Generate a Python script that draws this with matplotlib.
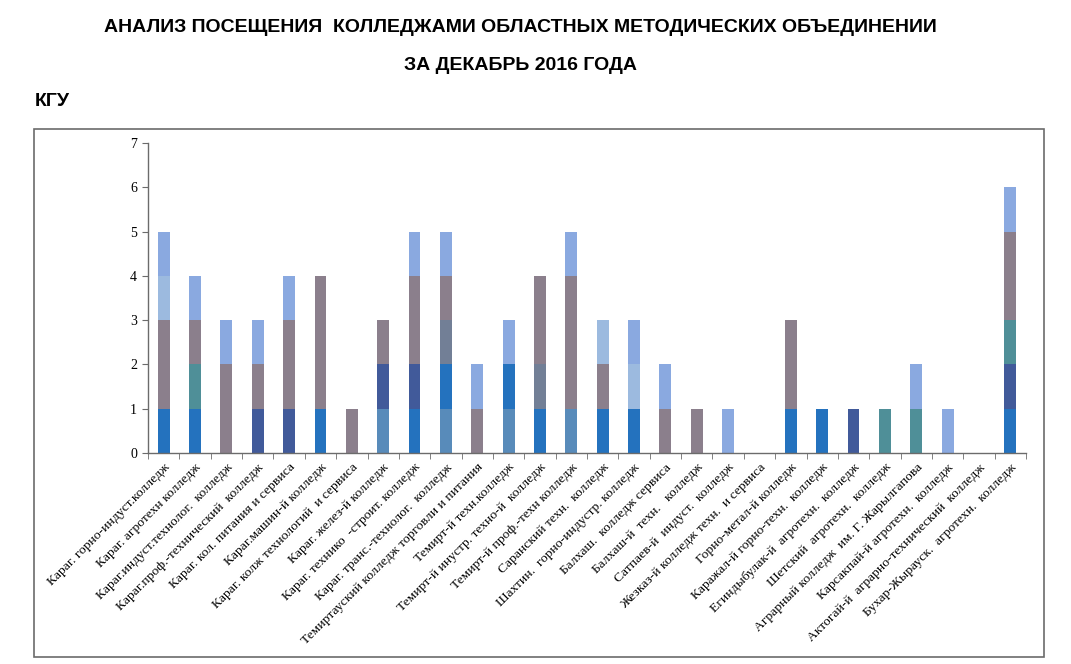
import numpy as np
import matplotlib
matplotlib.use("Agg")
from matplotlib import pyplot as plt
from matplotlib.patches import Rectangle

colleges = [
    "Караг. горно-индуст.колледж",
    "Караг. агротехн колледж",
    "Караг.индуст.технолог.  колледж",
    "Караг.проф.-технический  колледж",
    "Караг. кол. питания и сервиса",
    "Караг.машин-й колледж",
    "Караг. колж технологий  и сервиса",
    "Караг. желез-й колледж",
    "Караг. технико  -строит. колледж",
    "Караг. транс.-технолог.  колледж",
    "Темиртауский колледж торговли и питания",
    "Темирт-й техн.колледж",
    "Темирт-й инустр. техно-й  колледж",
    "Темирт-й проф.-техн колледж",
    "Саранский техн.  колледж",
    "Шахтин.  горно-индустр. колледж",
    "Балхаш.  колледж сервиса",
    "Балхаш-й  техн.   колледж",
    "Сатпаев-й  индуст.  колледж",
    "Жезказ-й колледж техн.  и сервиса",
    "Горно-метал-й колледж",
    "Каражал-й горно-техн.  колледж",
    "Егиндыбулак-й  агротехн.  колледж",
    "Шетский  агротехн.  колледж",
    "Аграрный колледж  им. Г. Жарылгапова",
    "Карсакпай-й агротехн.  колледж",
    "Актогай-й  аграрно-технический  колледж",
    "Бухар-Жырауск.  агротехн.  колледж",
]

# stacked series, bottom to top
s1 = [0, 0, 0, 0, 0, 0, 0, 1, 0, 1, 0, 1, 0, 1, 0, 0, 0, 0, 0, 0, 0, 0, 0, 0, 0, 0, 0, 0]
s2 = [1, 1, 0, 0, 0, 1, 0, 0, 1, 1, 0, 1, 1, 0, 1, 1, 0, 0, 0, 0, 1, 1, 0, 0, 0, 0, 0, 1]
s3 = [0, 0, 0, 1, 1, 0, 0, 1, 1, 0, 0, 0, 0, 0, 0, 0, 0, 0, 0, 0, 0, 0, 1, 0, 0, 0, 0, 1]
s4 = [0, 1, 0, 0, 0, 0, 0, 0, 0, 0, 0, 0, 0, 0, 0, 0, 0, 0, 0, 0, 0, 0, 0, 1, 1, 0, 0, 1]
s5 = [0, 0, 0, 0, 0, 0, 0, 0, 0, 1, 0, 0, 1, 0, 0, 0, 0, 0, 0, 0, 0, 0, 0, 0, 0, 0, 0, 0]
s6 = [2, 1, 2, 1, 2, 3, 1, 1, 2, 1, 1, 0, 2, 3, 1, 0, 1, 1, 0, 0, 2, 0, 0, 0, 0, 0, 0, 2]
s7 = [1, 0, 0, 0, 0, 0, 0, 0, 0, 0, 0, 0, 0, 0, 1, 1, 0, 0, 0, 0, 0, 0, 0, 0, 0, 0, 0, 0]
s8 = [1, 1, 1, 1, 1, 0, 0, 0, 1, 1, 1, 1, 0, 1, 0, 1, 1, 0, 1, 0, 0, 0, 0, 0, 1, 1, 0, 1]

series = [s1, s2, s3, s4, s5, s6, s7, s8]
colors = ["#588BBA", "#2472BE", "#415A9A", "#4F8F98",
          "#727F96", "#8B7F8C", "#9CBADF", "#8AA9E0"]

serif = ["Liberation Serif", "DejaVu Serif"]
sans = ["Liberation Sans", "DejaVu Sans"]

fig = plt.figure(figsize=(10.71, 6.64), dpi=100)
ax = fig.add_axes([148 / 1071, 1 - 453 / 664, (1026 - 148) / 1071, 310 / 664])

x = np.arange(len(colleges))
bottom = np.zeros(len(colleges))
for vals, c in zip(series, colors):
    vals = np.array(vals, dtype=float)
    ax.bar(x, vals, 0.38, bottom=bottom, color=c, linewidth=0)
    bottom += vals

ax.set_xlim(-0.5, len(colleges) - 0.5)
ax.set_ylim(0, 7)
ax.set_yticks(range(8))
ax.set_yticklabels([str(i) for i in range(8)], family=serif, fontsize=10)

ax.set_xticks(x)
ax.set_xticklabels(colleges, rotation=45, ha="right", va="top",
                   rotation_mode="anchor", family=serif, fontsize=9.7)
ax.set_xticks(np.arange(-0.5, len(colleges)), minor=True)
ax.tick_params(axis="x", which="major", length=0, pad=6)
ax.tick_params(axis="x", which="minor", length=4, color="#6b6b6b", direction="out")
ax.tick_params(axis="y", length=4, color="#6b6b6b", direction="out", pad=4)

for side in ("top", "right"):
    ax.spines[side].set_visible(False)
for side in ("left", "bottom"):
    ax.spines[side].set_color("#6b6b6b")
    ax.spines[side].set_linewidth(1.0)

# outer chart frame
fig.patches.append(Rectangle((34 / 1071, 1 - 657 / 664), (1044 - 34) / 1071, (657 - 129) / 664,
                             transform=fig.transFigure, fill=False,
                             edgecolor="#6b6b6b", linewidth=1.2))

fig.text(520 / 1071, 1 - 27 / 664, "АНАЛИЗ ПОСЕЩЕНИЯ  КОЛЛЕДЖАМИ ОБЛАСТНЫХ МЕТОДИЧЕСКИХ ОБЪЕДИНЕНИИ",
         ha="center", va="center", fontsize=14, fontweight="bold", family=sans)
fig.text(520 / 1071, 1 - 65 / 664, "ЗА ДЕКАБРЬ 2016 ГОДА",
         ha="center", va="center", fontsize=14, fontweight="bold", family=sans)
fig.text(35 / 1071, 1 - 102 / 664, "КГУ",
         ha="left", va="center", fontsize=14, fontweight="bold", family=sans)

fig.savefig("out.png", dpi=100)
